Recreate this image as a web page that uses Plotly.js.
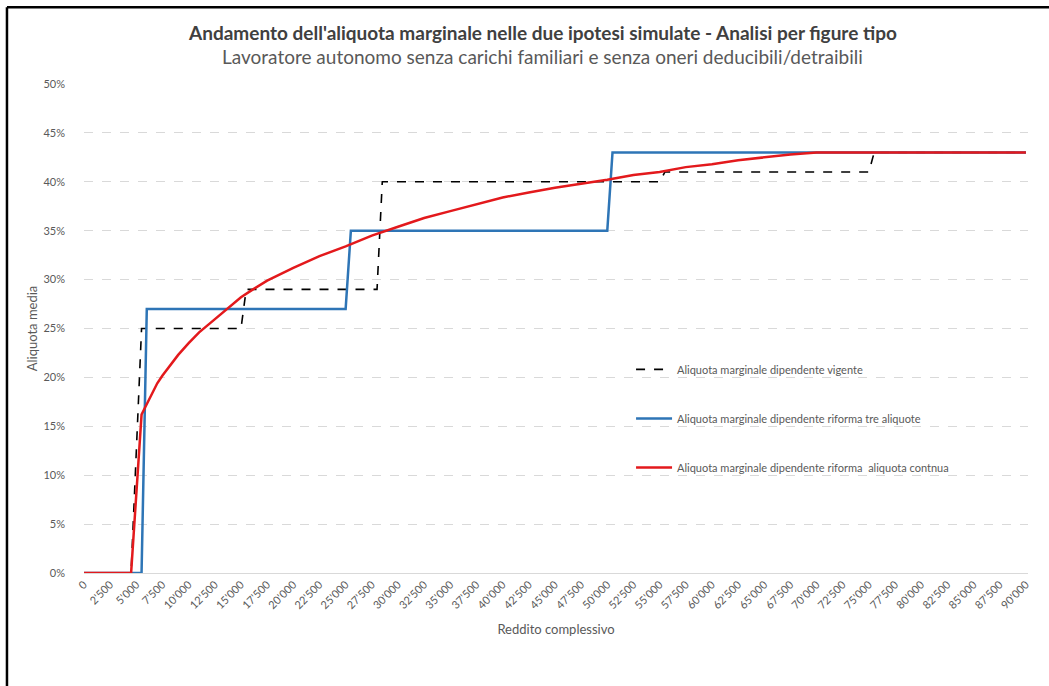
<!DOCTYPE html>
<html>
<head>
<meta charset="utf-8">
<script src="https://cdn.plot.ly/plotly-3.0.1.min.js"></script>
<style>
  html, body { margin: 0; padding: 0; background: #fff; }
  #chart { width: 1049px; height: 686px; }
</style>
</head>
<body>
<div id="chart"></div>
<script>
// Reddito complessivo (euro) and marginal rates (%)
var vigenteX = [0, 4500, 5500, 15000, 15500, 28000, 28500, 55000, 55500, 75000, 75500, 90000];
var vigenteY = [0, 0, 25, 25, 29, 29, 40, 40, 41, 41, 43, 43];

var treX = [0, 5500, 6000, 25000, 25500, 50000, 50500, 90000];
var treY = [0, 0, 27, 27, 35, 35, 43, 43];

var continuaX = [0, 4500, 5500, 6000, 6500, 7000, 7500, 8000, 9000, 10000, 11000, 12000, 13000,
  14000, 15000, 16000, 17500, 20000, 22500, 25000, 27500, 30000, 32500, 35000, 37500, 40000,
  42500, 45000, 47500, 50000, 52500, 55000, 57500, 60000, 62500, 65000, 67500, 70000, 90000];
var continuaY = [0, 0, 16.2, 17.3, 18.4, 19.4, 20.2, 20.9, 22.3, 23.5, 24.6, 25.5, 26.4,
  27.3, 28.2, 28.9, 29.9, 31.2, 32.4, 33.4, 34.5, 35.4, 36.3, 37.0, 37.7, 38.4,
  38.9, 39.4, 39.8, 40.2, 40.7, 41.0, 41.5, 41.8, 42.2, 42.5, 42.8, 43.0, 43.0];

var xLabels = ["0", "2'500", "5'000", "7'500", "10'000", "12'500", "15'000", "17'500", "20'000",
  "22'500", "25'000", "27'500", "30'000", "32'500", "35'000", "37'500", "40'000", "42'500",
  "45'000", "47'500", "50'000", "52'500", "55'000", "57'500", "60'000", "62'500", "65'000",
  "67'500", "70'000", "72'500", "75'000", "77'500", "80'000", "82'500", "85'000", "87'500", "90'000"];
var xTicks = xLabels.map(function (s) { return Number(s.replace("'", "")); });

var seriesNames = [
  "Aliquota marginale dipendente vigente",
  "Aliquota marginale dipendente riforma tre aliquote",
  "Aliquota marginale dipendente riforma  aliquota contnua"
];

var grey = "#595959";
var font = "Lato, 'Open Sans', sans-serif";

var data = [
  {
    x: vigenteX, y: vigenteY, name: seriesNames[0], type: "scatter", mode: "lines",
    legendgroup: "a",
    line: { color: "#000000", width: 1.6, dash: "dash" }
  },
  {
    x: treX, y: treY, name: seriesNames[1], type: "scatter", mode: "lines",
    legendgroup: "b",
    line: { color: "#2e75b6", width: 2.5 }
  },
  {
    x: continuaX, y: continuaY, name: seriesNames[2], type: "scatter", mode: "lines",
    legendgroup: "c",
    line: { color: "#e3191c", width: 2.5 }
  }
];

var layout = {
  width: 1049,
  height: 686,
  margin: { l: 84, r: 21, t: 84, b: 113 },
  paper_bgcolor: "#ffffff",
  plot_bgcolor: "#ffffff",
  font: { family: font, color: grey, size: 11 },
  title: {
    text: "<b>Andamento dell'aliquota marginale nelle due ipotesi simulate - Analisi per figure tipo</b>",
    font: { family: font, size: 19, color: "#404040" },
    x: 0.5176, xanchor: "center",
    y: 0.952, yanchor: "middle"
  },
  annotations: [{
    text: "Lavoratore autonomo senza carichi familiari e senza oneri deducibili/detraibili",
    xref: "paper", yref: "paper", x: 0.486, y: 1.057,
    xanchor: "center", yanchor: "middle", showarrow: false,
    font: { family: font, size: 19, color: grey }
  }],
  xaxis: {
    range: [0, 90200],
    tickmode: "array",
    tickvals: xTicks,
    ticktext: xLabels,
    tickangle: -45,
    tickfont: { size: 11, color: grey },
    showgrid: false,
    zeroline: false,
    showline: true,
    linecolor: "#d9d9d9",
    linewidth: 1,
    ticks: "",
    title: { text: "Reddito complessivo", font: { size: 13, color: grey }, standoff: 14 }
  },
  yaxis: {
    range: [0, 50],
    tickmode: "linear",
    tick0: 0,
    dtick: 5,
    ticksuffix: "%",
    tickfont: { size: 11, color: grey },
    ticklabelstandoff: 18,
    showgrid: true,
    gridcolor: "#d9d9d9",
    griddash: "dash",
    gridwidth: 1,
    zeroline: false,
    showline: false,
    ticks: "",
    title: { text: "Aliquota media", font: { size: 13, color: grey }, standoff: 2 }
  },
  showlegend: true,
  legend: {
    x: 0.5795, y: 0.446, xanchor: "left", yanchor: "top",
    bgcolor: "rgba(0,0,0,0)",
    font: { size: 11, color: grey },
    tracegroupgap: 30,
    itemwidth: 36
  },
  shapes: [
    { type: "line", xref: "paper", yref: "paper", x0: -0.0816, x1: -0.0816, y0: -0.3, y1: 1.157,
      line: { color: "#000000", width: 2.5 } },
    { type: "line", xref: "paper", yref: "paper", x0: -0.0816, x1: 1.1, y0: 1.157, y1: 1.157,
      line: { color: "#000000", width: 2.5 } }
  ]
};

Plotly.newPlot("chart", data, layout, { displayModeBar: false, staticPlot: true });
</script>
</body>
</html>
